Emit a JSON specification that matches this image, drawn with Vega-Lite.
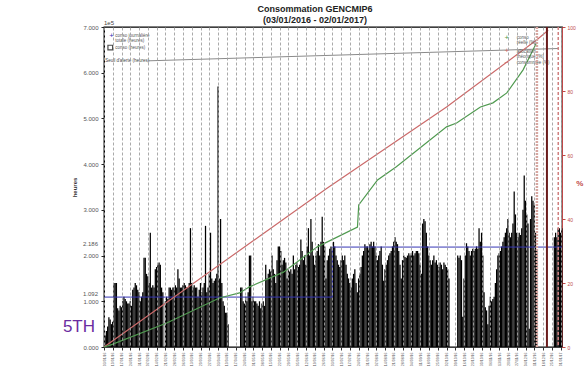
{
  "$schema": "https://vega.github.io/schema/vega-lite/v6.json",
  "autosize": "none",
  "width": 458,
  "height": 320,
  "padding": {"left": 104, "top": 27, "right": 23, "bottom": 19},
  "background": "white",
  "config": {"view": {"stroke": "black", "strokeWidth": 1.3}, "font": "Liberation Sans", "axis": {"labelOverlap": false}},
  "title": {"text": ["Consommation GENCMIP6", "(03/01/2016 - 02/01/2017)"], "fontSize": 9, "fontWeight": "bold", "font": "Liberation Sans", "anchor": "middle", "dx": -18, "offset": -5, "lineHeight": 11, "color": "#222"},
  "datasets": {
    "bars": [
      {"d":"2016-01-03","v":0.25},{"d":"2016-01-04","v":0.35},{"d":"2016-01-05","v":0.45},{"d":"2016-01-06","v":0.65},{"d":"2016-01-07","v":0.6},{"d":"2016-01-08","v":0.5},{"d":"2016-01-09","v":0.55},{"d":"2016-01-10","v":1.4},{"d":"2016-01-11","v":1.4},{"d":"2016-01-12","v":1.4},{"d":"2016-01-13","v":0.85},{"d":"2016-01-14","v":0.8},{"d":"2016-01-15","v":0.9},{"d":"2016-01-16","v":0.87},{"d":"2016-01-17","v":1.0},{"d":"2016-01-18","v":1.1},{"d":"2016-01-19","v":1.05},{"d":"2016-01-20","v":1.0},{"d":"2016-01-21","v":0.95},{"d":"2016-01-22","v":0.95},{"d":"2016-01-23","v":1.0},{"d":"2016-01-24","v":0.9},{"d":"2016-01-25","v":1.25},{"d":"2016-01-26","v":1.3},{"d":"2016-01-27","v":1.4},{"d":"2016-01-28","v":1.35},{"d":"2016-01-29","v":1.25},{"d":"2016-01-30","v":1.2},{"d":"2016-01-31","v":1.0},
      {"d":"2016-02-01","v":1.1},{"d":"2016-02-02","v":1.2},{"d":"2016-02-03","v":1.95},{"d":"2016-02-04","v":1.95},{"d":"2016-02-05","v":1.6},{"d":"2016-02-06","v":1.55},{"d":"2016-02-07","v":1.4},{"d":"2016-02-08","v":2.5},{"d":"2016-02-09","v":1.3},{"d":"2016-02-10","v":1.35},{"d":"2016-02-11","v":1.3},{"d":"2016-02-12","v":1.7},{"d":"2016-02-13","v":1.75},{"d":"2016-02-14","v":1.8},{"d":"2016-02-15","v":1.85},{"d":"2016-02-16","v":1.8},{"d":"2016-02-17","v":1.3},{"d":"2016-02-18","v":1.2},{"d":"2016-02-20","v":1.0},{"d":"2016-02-21","v":1.1},{"d":"2016-02-22","v":1.05},{"d":"2016-02-23","v":1.3},{"d":"2016-02-24","v":1.3},{"d":"2016-02-25","v":1.25},{"d":"2016-02-26","v":1.3},{"d":"2016-02-27","v":1.3},{"d":"2016-02-28","v":1.35},{"d":"2016-02-29","v":1.3},
      {"d":"2016-03-01","v":1.7},{"d":"2016-03-02","v":1.5},{"d":"2016-03-03","v":1.3},{"d":"2016-03-04","v":1.3},{"d":"2016-03-05","v":1.35},{"d":"2016-03-06","v":1.4},{"d":"2016-03-07","v":1.35},{"d":"2016-03-08","v":1.3},{"d":"2016-03-09","v":1.3},{"d":"2016-03-10","v":1.4},{"d":"2016-03-11","v":2.6},{"d":"2016-03-12","v":1.4},{"d":"2016-03-13","v":1.3},{"d":"2016-03-14","v":1.35},{"d":"2016-03-15","v":1.3},{"d":"2016-03-16","v":1.3},{"d":"2016-03-17","v":1.1},{"d":"2016-03-18","v":1.25},{"d":"2016-03-19","v":1.4},{"d":"2016-03-20","v":1.2},{"d":"2016-03-21","v":1.3},{"d":"2016-03-22","v":1.4},{"d":"2016-03-23","v":2.65},{"d":"2016-03-24","v":1.2},{"d":"2016-03-25","v":1.3},{"d":"2016-03-26","v":1.6},{"d":"2016-03-27","v":2.5},{"d":"2016-03-28","v":1.5},{"d":"2016-03-29","v":1.4},{"d":"2016-03-30","v":1.45},{"d":"2016-03-31","v":1.5},
      {"d":"2016-04-01","v":1.6},{"d":"2016-04-02","v":5.7},{"d":"2016-04-03","v":1.5},{"d":"2016-04-04","v":2.8},{"d":"2016-04-05","v":1.4},{"d":"2016-04-06","v":1.0},{"d":"2016-04-07","v":0.9},{"d":"2016-04-08","v":0.75},{"d":"2016-04-09","v":0.75},{"d":"2016-04-10","v":0.5},{"d":"2016-04-20","v":1.3},{"d":"2016-04-21","v":1.3},{"d":"2016-04-22","v":1.0},{"d":"2016-04-23","v":0.95},{"d":"2016-04-24","v":1.1},{"d":"2016-04-25","v":1.0},{"d":"2016-04-26","v":1.2},{"d":"2016-04-27","v":2.0},{"d":"2016-04-28","v":2.0},{"d":"2016-04-29","v":1.0},{"d":"2016-04-30","v":1.1},
      {"d":"2016-05-01","v":1.0},{"d":"2016-05-02","v":1.0},{"d":"2016-05-03","v":0.95},{"d":"2016-05-04","v":0.9},{"d":"2016-05-05","v":1.0},{"d":"2016-05-06","v":0.85},{"d":"2016-05-07","v":0.95},{"d":"2016-05-08","v":1.0},{"d":"2016-05-09","v":0.9},{"d":"2016-05-10","v":1.8},{"d":"2016-05-11","v":1.5},{"d":"2016-05-12","v":1.6},{"d":"2016-05-13","v":1.7},{"d":"2016-05-14","v":1.65},{"d":"2016-05-15","v":2.0},{"d":"2016-05-16","v":1.7},{"d":"2016-05-17","v":1.6},{"d":"2016-05-18","v":1.4},{"d":"2016-05-19","v":1.9},{"d":"2016-05-20","v":2.2},{"d":"2016-05-21","v":2.2},{"d":"2016-05-22","v":2.1},{"d":"2016-05-23","v":1.8},{"d":"2016-05-24","v":1.9},{"d":"2016-05-25","v":1.95},{"d":"2016-05-26","v":1.85},{"d":"2016-05-27","v":1.5},{"d":"2016-05-28","v":1.7},{"d":"2016-05-29","v":1.65},{"d":"2016-05-30","v":1.7},{"d":"2016-05-31","v":1.6},
      {"d":"2016-06-01","v":2.0},{"d":"2016-06-02","v":1.7},{"d":"2016-06-03","v":1.8},{"d":"2016-06-04","v":1.85},{"d":"2016-06-05","v":1.75},{"d":"2016-06-06","v":1.8},{"d":"2016-06-07","v":2.35},{"d":"2016-06-08","v":2.1},{"d":"2016-06-09","v":1.9},{"d":"2016-06-10","v":2.0},{"d":"2016-06-11","v":1.8},{"d":"2016-06-12","v":2.2},{"d":"2016-06-13","v":2.6},{"d":"2016-06-14","v":2.0},{"d":"2016-06-15","v":2.8},{"d":"2016-06-16","v":2.3},{"d":"2016-06-17","v":2.0},{"d":"2016-06-18","v":1.8},{"d":"2016-06-19","v":2.0},{"d":"2016-06-20","v":2.1},{"d":"2016-06-21","v":2.25},{"d":"2016-06-22","v":2.0},{"d":"2016-06-23","v":2.3},{"d":"2016-06-24","v":2.85},{"d":"2016-06-25","v":2.3},{"d":"2016-06-26","v":2.2},{"d":"2016-06-27","v":1.5},{"d":"2016-06-28","v":1.9},{"d":"2016-06-29","v":2.0},{"d":"2016-06-30","v":2.15},
      {"d":"2016-07-01","v":2.2},{"d":"2016-07-02","v":2.1},{"d":"2016-07-03","v":2.3},{"d":"2016-07-04","v":2.2},{"d":"2016-07-05","v":2.0},{"d":"2016-07-06","v":1.9},{"d":"2016-07-07","v":1.8},{"d":"2016-07-08","v":1.75},{"d":"2016-07-09","v":1.9},{"d":"2016-07-10","v":2.0},{"d":"2016-07-11","v":1.9},{"d":"2016-07-12","v":2.0},{"d":"2016-07-13","v":1.8},{"d":"2016-07-14","v":1.6},{"d":"2016-07-15","v":1.5},{"d":"2016-07-16","v":1.4},{"d":"2016-07-17","v":1.3},{"d":"2016-07-18","v":1.5},{"d":"2016-07-19","v":1.6},{"d":"2016-07-20","v":1.7},{"d":"2016-07-21","v":1.4},{"d":"2016-07-22","v":1.2},{"d":"2016-07-23","v":1.5},{"d":"2016-07-24","v":1.6},{"d":"2016-07-25","v":1.75},{"d":"2016-07-26","v":2.0},{"d":"2016-07-27","v":2.1},{"d":"2016-07-28","v":2.25},{"d":"2016-07-29","v":2.2},{"d":"2016-07-30","v":2.2},{"d":"2016-07-31","v":2.15},
      {"d":"2016-08-01","v":2.25},{"d":"2016-08-02","v":2.3},{"d":"2016-08-03","v":2.2},{"d":"2016-08-04","v":2.3},{"d":"2016-08-05","v":2.2},{"d":"2016-08-06","v":2.0},{"d":"2016-08-07","v":1.9},{"d":"2016-08-08","v":2.0},{"d":"2016-08-09","v":2.1},{"d":"2016-08-10","v":2.2},{"d":"2016-08-11","v":1.8},{"d":"2016-08-12","v":1.45},{"d":"2016-08-13","v":1.7},{"d":"2016-08-14","v":1.8},{"d":"2016-08-15","v":1.9},{"d":"2016-08-16","v":2.0},{"d":"2016-08-17","v":2.05},{"d":"2016-08-18","v":2.1},{"d":"2016-08-19","v":2.2},{"d":"2016-08-20","v":2.3},{"d":"2016-08-21","v":2.4},{"d":"2016-08-22","v":2.3},{"d":"2016-08-23","v":2.25},{"d":"2016-08-24","v":2.1},{"d":"2016-08-25","v":1.8},{"d":"2016-08-26","v":1.5},{"d":"2016-08-27","v":1.9},{"d":"2016-08-28","v":2.0},{"d":"2016-08-29","v":1.97},{"d":"2016-08-30","v":1.95},{"d":"2016-08-31","v":2.0},
      {"d":"2016-09-01","v":2.05},{"d":"2016-09-02","v":2.0},{"d":"2016-09-03","v":2.05},{"d":"2016-09-04","v":2.1},{"d":"2016-09-05","v":2.0},{"d":"2016-09-06","v":2.05},{"d":"2016-09-07","v":2.1},{"d":"2016-09-08","v":2.1},{"d":"2016-09-09","v":2.05},{"d":"2016-09-10","v":1.8},{"d":"2016-09-11","v":1.6},{"d":"2016-09-12","v":2.7},{"d":"2016-09-13","v":2.8},{"d":"2016-09-14","v":2.75},{"d":"2016-09-15","v":2.5},{"d":"2016-09-16","v":2.2},{"d":"2016-09-17","v":2.0},{"d":"2016-09-18","v":1.9},{"d":"2016-09-19","v":1.8},{"d":"2016-09-20","v":1.9},{"d":"2016-09-21","v":2.0},{"d":"2016-09-22","v":1.85},{"d":"2016-09-23","v":1.9},{"d":"2016-09-24","v":1.8},{"d":"2016-09-25","v":1.75},{"d":"2016-09-26","v":1.85},{"d":"2016-09-27","v":1.8},{"d":"2016-09-28","v":1.7},{"d":"2016-09-29","v":1.85},{"d":"2016-09-30","v":1.8},
      {"d":"2016-10-01","v":1.75},{"d":"2016-10-02","v":1.7},{"d":"2016-10-03","v":1.5},{"d":"2016-10-10","v":2.0},{"d":"2016-10-11","v":1.95},{"d":"2016-10-12","v":2.0},{"d":"2016-10-13","v":1.9},{"d":"2016-10-14","v":0.66},{"d":"2016-10-15","v":1.5},{"d":"2016-10-16","v":2.0},{"d":"2016-10-17","v":2.27},{"d":"2016-10-18","v":2.2},{"d":"2016-10-19","v":2.1},{"d":"2016-10-20","v":2.0},{"d":"2016-10-21","v":2.1},{"d":"2016-10-22","v":2.15},{"d":"2016-10-23","v":2.1},{"d":"2016-10-24","v":2.15},{"d":"2016-10-25","v":2.2},{"d":"2016-10-26","v":2.15},{"d":"2016-10-27","v":2.6},{"d":"2016-10-28","v":2.3},{"d":"2016-10-29","v":2.5},{"d":"2016-10-30","v":2.0},{"d":"2016-10-31","v":1.2},
      {"d":"2016-11-01","v":0.87},{"d":"2016-11-02","v":0.8},{"d":"2016-11-03","v":0.5},{"d":"2016-11-04","v":0.9},{"d":"2016-11-05","v":1.1},{"d":"2016-11-06","v":1.0},{"d":"2016-11-07","v":1.05},{"d":"2016-11-08","v":1.1},{"d":"2016-11-09","v":1.4},{"d":"2016-11-10","v":1.7},{"d":"2016-11-11","v":2.0},{"d":"2016-11-12","v":2.05},{"d":"2016-11-13","v":2.1},{"d":"2016-11-14","v":2.2},{"d":"2016-11-15","v":2.3},{"d":"2016-11-16","v":2.4},{"d":"2016-11-17","v":2.5},{"d":"2016-11-18","v":2.6},{"d":"2016-11-19","v":2.8},{"d":"2016-11-20","v":2.5},{"d":"2016-11-21","v":2.4},{"d":"2016-11-22","v":2.5},{"d":"2016-11-23","v":2.7},{"d":"2016-11-24","v":3.4},{"d":"2016-11-25","v":2.9},{"d":"2016-11-26","v":2.5},{"d":"2016-11-27","v":2.4},{"d":"2016-11-28","v":2.5},{"d":"2016-11-29","v":2.45},{"d":"2016-11-30","v":2.6},
      {"d":"2016-12-01","v":3.0},{"d":"2016-12-02","v":3.75},{"d":"2016-12-03","v":3.2},{"d":"2016-12-04","v":2.9},{"d":"2016-12-05","v":2.7},{"d":"2016-12-06","v":0.4},{"d":"2016-12-07","v":2.8},{"d":"2016-12-08","v":3.3},{"d":"2016-12-09","v":3.2},{"d":"2016-12-10","v":3.1},{"d":"2016-12-11","v":2.5},{"d":"2016-12-12","v":2.1},{"d":"2016-12-26","v":2.4},{"d":"2016-12-27","v":2.5},{"d":"2016-12-28","v":2.4},{"d":"2016-12-29","v":2.6},{"d":"2016-12-30","v":2.6},{"d":"2016-12-31","v":2.5},{"d":"2017-01-01","v":2.6}
    ],
    "blue": [{"d":"2016-01-03","v":1.092},{"d":"2016-07-03","v":2.186},{"d":"2017-01-02","v":2.186}],
    "levels": [{"v":1.092},{"v":2.186}],
    "gray": [{"d":"2016-02-07","v":6.26},{"d":"2016-12-30","v":6.53}],
    "green": [
      {"d":"2016-01-03","p":0},{"d":"2016-01-08","p":0.6},{"d":"2016-02-22","p":7.5},{"d":"2016-04-04","p":15.3},{"d":"2016-04-20","p":16.9},{"d":"2016-04-28","p":18.8},{"d":"2016-05-25","p":23.4},{"d":"2016-06-21","p":31.3},{"d":"2016-07-23","p":37.5},{"d":"2016-07-24","p":44.4},{"d":"2016-08-08","p":52.2},{"d":"2016-08-23","p":56.3},{"d":"2016-10-02","p":68.8},{"d":"2016-10-10","p":70},{"d":"2016-10-29","p":75},{"d":"2016-11-08","p":76.3},{"d":"2016-11-19","p":79.4},{"d":"2016-12-02","p":86.6},{"d":"2016-12-13","p":95.3}
    ],
    "red": [{"d":"2016-01-03","p":0},{"d":"2016-06-29","p":49.7},{"d":"2016-10-02","p":75},{"d":"2016-12-13","p":96},{"d":"2016-12-22","p":99}],
    "one": [{}]
  },
  "layer": [
    {
      "layer": [
        {
          "data": {"name": "bars"},
          "mark": {"type": "bar", "color": "black", "binSpacing": 0},
          "encoding": {
            "x": {"field": "d", "timeUnit": "utcyearmonthdate", "type": "temporal", "title": null,
              "scale": {"type": "utc", "nice": false, "domain": [{"year": 2016, "month": 1, "date": 3, "utc": true}, {"year": 2017, "month": 1, "date": 2, "utc": true}]},
              "axis": {"tickCount": {"interval": "week", "step": 1}, "format": "%d/%m/%y", "labelAngle": -90, "labelFontSize": 3.5, "labelColor": "#555", "labelOverlap": false, "labelPadding": 2, "tickSize": 3, "tickColor": "#333", "domain": false, "grid": true, "gridDash": [3, 2], "gridColor": "#a0a0a0", "gridWidth": 0.9, "zindex": 1}},
            "y": {"field": "v", "type": "quantitative", "title": "heures",
              "scale": {"domain": [0, 7], "nice": false},
              "axis": {"orient": "left", "values": [0, 1, 2, 3, 4, 5, 6, 7], "format": ".3f", "labelFontSize": 6, "labelColor": "#555", "labelPadding": 3, "tickSize": 3, "tickColor": "#222", "domainColor": "#000", "grid": false, "titleFontSize": 6, "titleFontWeight": "bold", "titleColor": "#333", "titlePadding": 5}}
          }
        },
        {
          "data": {"name": "levels"},
          "mark": {"type": "text", "color": "#555", "fontSize": 6, "align": "right", "baseline": "middle", "dx": -6, "dy": -3},
          "encoding": {"x": {"datum": {"year": 2016, "month": 1, "date": 3, "utc": true}, "type": "temporal"}, "y": {"field": "v", "type": "quantitative", "title": "heures"}, "text": {"field": "v", "type": "quantitative", "format": ".3f"}}
        },
        {
          "data": {"name": "blue"},
          "mark": {"type": "line", "color": "#3535b5", "strokeWidth": 1, "interpolate": "step-after"},
          "encoding": {"x": {"field": "d", "type": "temporal", "title": null}, "y": {"field": "v", "type": "quantitative", "title": "heures"}}
        },
        {
          "data": {"name": "gray"},
          "mark": {"type": "line", "color": "#8a8a8a", "strokeWidth": 1},
          "encoding": {"x": {"field": "d", "type": "temporal", "title": null}, "y": {"field": "v", "type": "quantitative", "title": "heures"}}
        },
        {
          "data": {"name": "one"},
          "mark": {"type": "text", "text": "+", "color": "#3535b5", "fontSize": 8, "align": "center", "baseline": "middle"},
          "encoding": {"x": {"datum": {"year": 2016, "month": 1, "date": 9, "utc": true}, "type": "temporal"}, "y": {"datum": 6.8, "type": "quantitative"}}
        },
        {
          "data": {"name": "one"},
          "mark": {"type": "text", "text": ["conso journalière", "totale (heures)"], "color": "#555", "fontSize": 4.5, "align": "left", "baseline": "middle", "lineHeight": 5},
          "encoding": {"x": {"datum": {"year": 2016, "month": 1, "date": 12, "utc": true}, "type": "temporal"}, "y": {"datum": 6.8, "type": "quantitative"}}
        },
        {
          "data": {"name": "one"},
          "mark": {"type": "point", "shape": "square", "filled": false, "stroke": "black", "strokeWidth": 1.2, "size": 22},
          "encoding": {"x": {"datum": {"year": 2016, "month": 1, "date": 8, "utc": true}, "type": "temporal"}, "y": {"datum": 6.55, "type": "quantitative"}}
        },
        {
          "data": {"name": "one"},
          "mark": {"type": "text", "text": "conso (heures)", "color": "#555", "fontSize": 4.5, "align": "left", "baseline": "middle"},
          "encoding": {"x": {"datum": {"year": 2016, "month": 1, "date": 12, "utc": true}, "type": "temporal"}, "y": {"datum": 6.55, "type": "quantitative"}}
        },
        {
          "data": {"name": "one"},
          "mark": {"type": "text", "text": "Seuil d'alerte (heures)", "color": "#444", "fontSize": 4.5, "align": "left", "baseline": "middle"},
          "encoding": {"x": {"datum": {"year": 2016, "month": 1, "date": 4, "utc": true}, "type": "temporal"}, "y": {"datum": 6.26, "type": "quantitative"}}
        },
        {
          "data": {"name": "one"},
          "mark": {"type": "text", "text": "1e5", "color": "#444", "fontSize": 6, "align": "left", "baseline": "bottom", "dy": -1},
          "encoding": {"x": {"datum": {"year": 2016, "month": 1, "date": 3, "utc": true}, "type": "temporal"}, "y": {"datum": 7, "type": "quantitative"}}
        },
        {
          "data": {"name": "one"},
          "mark": {"type": "text", "text": "5TH", "color": "#6a2ca0", "fontSize": 17, "font": "Liberation Sans", "align": "right", "baseline": "middle", "dx": -9},
          "encoding": {"x": {"datum": {"year": 2016, "month": 1, "date": 3, "utc": true}, "type": "temporal"}, "y": {"datum": 0.44, "type": "quantitative"}}
        }
      ]
    },
    {
      "layer": [
        {
          "data": {"name": "red"},
          "mark": {"type": "line", "color": "#cc6a6a", "strokeWidth": 1.2},
          "encoding": {
            "x": {"field": "d", "type": "temporal", "title": null},
            "y": {"field": "p", "type": "quantitative", "title": "%",
              "scale": {"domain": [0, 100], "nice": false},
              "axis": {"orient": "right", "values": [0, 20, 40, 60, 80, 100], "labelFontSize": 5, "labelColor": "#c04848", "domainColor": "#c04848", "tickColor": "#c04848", "tickSize": 3, "grid": false, "titleColor": "#c04848", "titleFontSize": 8, "titleAngle": 0, "titlePadding": 4}}
          }
        },
        {
          "data": {"name": "green"},
          "mark": {"type": "line", "color": "#4f9a4f", "strokeWidth": 1.2},
          "encoding": {"x": {"field": "d", "type": "temporal", "title": null}, "y": {"field": "p", "type": "quantitative", "title": "%"}}
        },
        {
          "data": {"name": "one"},
          "mark": {"type": "text", "text": "+", "color": "#4f9a4f", "fontSize": 8, "align": "center", "baseline": "middle"},
          "encoding": {"x": {"datum": {"year": 2016, "month": 11, "date": 19, "utc": true}, "type": "temporal"}, "y": {"datum": 96.6, "type": "quantitative"}}
        },
        {
          "data": {"name": "one"},
          "mark": {"type": "text", "text": ["conso", "réelle (%)"], "color": "#555", "fontSize": 4.5, "align": "left", "baseline": "middle", "lineHeight": 5},
          "encoding": {"x": {"datum": {"year": 2016, "month": 11, "date": 27, "utc": true}, "type": "temporal"}, "y": {"datum": 96.6, "type": "quantitative"}}
        },
        {
          "data": {"name": "one"},
          "mark": {"type": "text", "text": "+", "color": "#cc6a6a", "fontSize": 8, "align": "center", "baseline": "middle"},
          "encoding": {"x": {"datum": {"year": 2016, "month": 11, "date": 19, "utc": true}, "type": "temporal"}, "y": {"datum": 92.6, "type": "quantitative"}}
        },
        {
          "data": {"name": "one"},
          "mark": {"type": "text", "text": ["allocation", "théorique (%)"], "color": "#555", "fontSize": 4.5, "align": "left", "baseline": "middle", "lineHeight": 5},
          "encoding": {"x": {"datum": {"year": 2016, "month": 11, "date": 27, "utc": true}, "type": "temporal"}, "y": {"datum": 92.2, "type": "quantitative"}}
        },
        {
          "data": {"name": "one"},
          "mark": {"type": "text", "text": "−", "color": "#cc6a6a", "fontSize": 8, "align": "center", "baseline": "middle"},
          "encoding": {"x": {"datum": {"year": 2016, "month": 11, "date": 19, "utc": true}, "type": "temporal"}, "y": {"datum": 88.7, "type": "quantitative"}}
        },
        {
          "data": {"name": "one"},
          "mark": {"type": "text", "text": "consommée (%)", "color": "#555", "fontSize": 4.5, "align": "left", "baseline": "middle"},
          "encoding": {"x": {"datum": {"year": 2016, "month": 11, "date": 27, "utc": true}, "type": "temporal"}, "y": {"datum": 88.7, "type": "quantitative"}}
        }
      ]
    },
    {
      "data": {"name": "one"},
      "mark": {"type": "rule", "color": "#d6a6a0", "strokeWidth": 2.5, "strokeDash": [2, 1]},
      "encoding": {"x": {"datum": {"year": 2016, "month": 12, "date": 13, "utc": true}, "type": "temporal"}}
    },
    {
      "data": {"name": "one"},
      "mark": {"type": "rule", "color": "#6b1d1d", "strokeWidth": 2},
      "encoding": {"x": {"datum": {"year": 2016, "month": 12, "date": 21, "utc": true}, "type": "temporal"}}
    },
    {
      "data": {"name": "one"},
      "mark": {"type": "rule", "color": "#d08080", "strokeWidth": 1.5, "strokeDash": [3, 2]},
      "encoding": {"x": {"datum": {"year": 2016, "month": 12, "date": 30, "utc": true}, "type": "temporal"}}
    }
  ],
  "resolve": {"scale": {"y": "independent"}, "axis": {"y": "independent"}}
}
